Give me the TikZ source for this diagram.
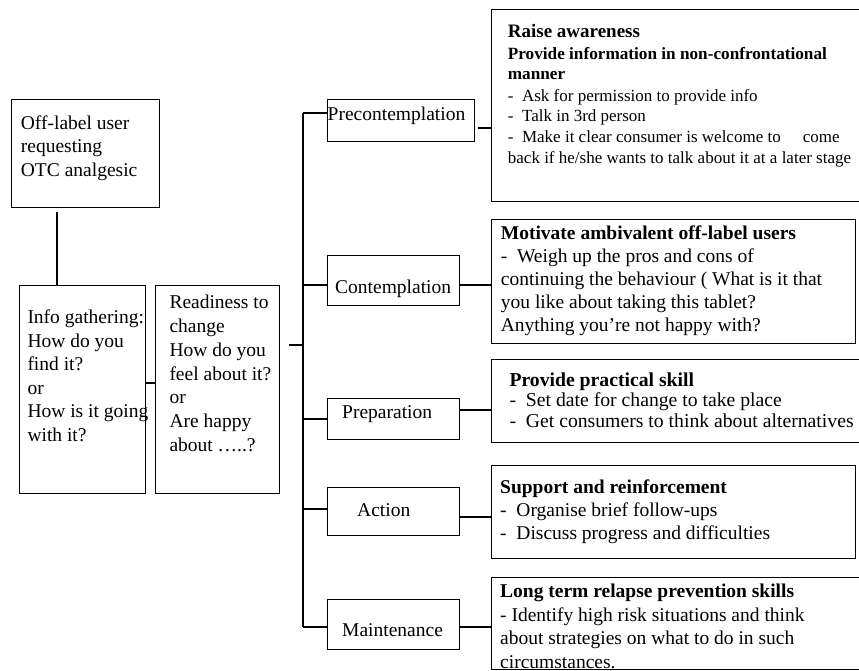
\documentclass[tikz,border=0pt]{standalone}
\usepackage{fontspec}
\setmainfont{Liberation Serif}
\begin{document}
\begin{tikzpicture}[x=1pt,y=-1pt,
  box/.style={draw, line width=1.4pt, inner sep=0pt, anchor=north west},
  conn/.style={line width=1.4pt},
  txt/.style={anchor=base west, inner sep=0pt, align=left, font=\fontsize{19.5}{23.6}\selectfont},
  rtxt/.style={anchor=base west, inner sep=0pt, align=left, font=\fontsize{19.5}{23}\selectfont},
  small/.style={anchor=base west, inner sep=0pt, align=left, font=\fontsize{17}{20.5}\selectfont},
]
\useasboundingbox (0,0) rectangle (859,671);
\clip (0,0) rectangle (859,671);

% left boxes
\node[box, minimum width=148pt, minimum height=108pt] (b1) at (11,99) {};
\node[box, minimum width=126pt, minimum height=208pt] (info) at (19,285) {};
\node[box, minimum width=124pt, minimum height=208pt] (ready) at (155,285) {};

% multi-line nodes: base anchor = baseline of the last line
\node[txt] (b1t) at (20.7,176.5) {Off-label user\\requesting\\OTC analgesic};
\node[txt] (infot) at (27.3,441.5) {Info gathering:\\How do you\\find it?\\or\\How is it going\\with it?};
\node[txt, font=\fontsize{19.5}{23.9}\selectfont] (readyt) at (169.3,451.7) {Readiness to\\change\\How do you\\feel about it?\\or\\Are happy\\about …..?};

% stage boxes
\node[box, minimum width=147pt, minimum height=42pt] (pre) at (327,99) {};
\node[box, minimum width=132pt, minimum height=50pt] (con) at (327,255) {};
\node[box, minimum width=132pt, minimum height=41pt] (prep) at (327,398) {};
\node[box, minimum width=132pt, minimum height=48pt] (act) at (327,487) {};
\node[box, minimum width=132pt, minimum height=50pt] (maint) at (327,599) {};

\node[txt] (pret) at (327.5,121) {Precontemplation};
\node[txt] (cont) at (335,293.3) {Contemplation};
\node[txt] (prept) at (342,418.3) {Preparation};
\node[txt] (actt) at (357,516.7) {Action};
\node[txt] (maintt) at (342,636.7) {Maintenance};

% right boxes
\node[box, minimum width=389pt, minimum height=192pt] (r1) at (491,9) {};
\node[box, minimum width=364pt, minimum height=124pt] (r2) at (491,219) {};
\node[box, minimum width=389pt, minimum height=83pt] (r3) at (491,359) {};
\node[box, minimum width=364pt, minimum height=93pt] (r4) at (491,465) {};

\node[anchor=base west, inner sep=0pt, font=\fontsize{19}{23}\selectfont\bfseries] (r1h) at (507.7,37.3) {Raise awareness};
\node[anchor=base west, inner sep=0pt, align=left, font=\fontsize{17.2}{20}\selectfont\bfseries] (r1s) at (507.7,80) {Provide information in non-confrontational\\manner};
\node[small] (r1t) at (507.7,163.7) {-~~Ask for permission to provide info\\-~~Talk in 3rd person\\-~~Make it clear consumer is welcome to\hspace{22pt}come\\[1pt]back if he/she wants to talk about it at a later stage};

\node[rtxt] (r2t) at (500.7,331) {\textbf{Motivate ambivalent off-label users}\\-~~Weigh up the pros and cons of\\continuing the behaviour ( What is it that\\you like about taking this tablet?\\Anything you’re not happy with?};

\node[anchor=base west, inner sep=0pt, align=left, font=\fontsize{19.7}{20.5}\selectfont] (r3t) at (509.3,427) {\textbf{Provide practical skill}\\-~~Set date for change to take place\\-~~Get consumers to think about alternatives};

\node[rtxt] (r4t) at (500,539.5) {\textbf{Support and reinforcement}\\-~~Organise brief follow-ups\\-~~Discuss progress and difficulties};

\node[rtxt, font=\fontsize{19.5}{23.6}\selectfont] (r5t) at (500,668.5) {\textbf{Long term relapse prevention skills}\\- Identify high risk situations and think\\about strategies on what to do in such\\circumstances.};
\fill[white] (491,669) rectangle (859,671);
\node[box, minimum width=389pt, minimum height=92pt] (r5) at (491,577) {};

% connectors
\coordinate (ttop) at (303,113);
\coordinate (tbot) at (303,627);
\draw[conn] ([xshift=46pt,yshift=-4pt]b1.south west) -- ([xshift=38pt]info.north west);
\draw[conn] (info.east |- 0,383) -- (ready.west |- 0,383);
\draw[conn] ([xshift=9pt]ready.east |- 0,345) -- (ttop |- 0,345);
\draw[conn] (ttop) -- (tbot);
\draw[conn] (ttop) -- (pre.west |- ttop);
\draw[conn] ([xshift=3pt]pre.east |- 0,128) -- (r1.west |- 0,128);
\draw[conn] (ttop |- 0,285) -- (con.west |- 0,285);
\draw[conn] (con.east |- 0,285) -- (r2.west |- 0,285);
\draw[conn] (ttop |- 0,419) -- (prep.west |- 0,419);
\draw[conn] (prep.east |- 0,410) -- (r3.west |- 0,410);
\draw[conn] (ttop |- 0,509) -- (act.west |- 0,509);
\draw[conn] (act.east |- 0,517) -- (r4.west |- 0,517);
\draw[conn] (tbot) -- (maint.west |- tbot);
\draw[conn] (maint.east |- tbot) -- (r5.west |- tbot);
\end{tikzpicture}
\end{document}
